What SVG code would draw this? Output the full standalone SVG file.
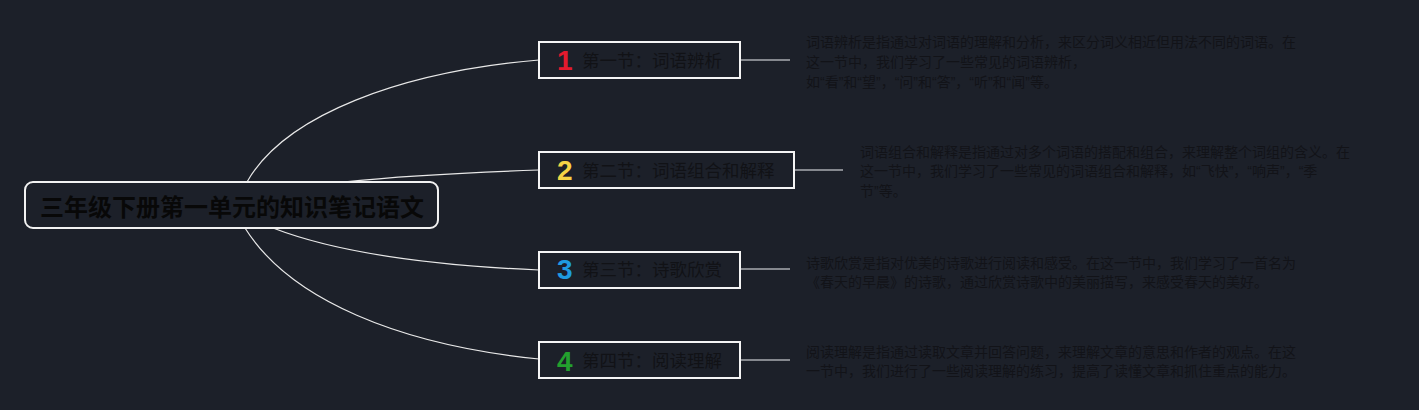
<svg xmlns="http://www.w3.org/2000/svg" width="1419" height="410" viewBox="0 0 1419 410">
<style>
.bg{fill:#1c2029}
.root{fill:#1c2029;stroke:#f2f2f2;stroke-width:2}
.box{fill:#1c2029;stroke:#f5f5f5;stroke-width:2}
.con{fill:none;stroke:#e8e8e8;stroke-width:1.2}
.stub{fill:none;stroke:#a9abb0;stroke-width:1.6}
.rt{font-family:"Noto Sans CJK SC","Noto Sans",sans-serif;font-size:24px;font-weight:bold;fill:#080808}
.nt{font-family:"Noto Sans CJK SC","Noto Sans",sans-serif;font-size:17.5px;fill:#111216}
.num{font-family:"Liberation Sans","Noto Sans",sans-serif;font-size:28px;font-weight:900}
.dt{font-family:"Liberation Sans","Noto Sans CJK SC",sans-serif;font-size:14px;fill:#121318}
</style>
<rect class="bg" x="0" y="0" width="1419" height="410"/>
<g id="connectors">
<path class="con" d="M247,182 C285,115 400,72 539,60"/>
<path class="con" d="M343,182 Q420,174 539,170"/>
<path class="con" d="M273,228 C330,250 420,265 539,270"/>
<path class="con" d="M245,228 C290,300 400,345 539,359"/>
<path class="stub" d="M740,60 H790"/>
<path class="stub" d="M794,170 H843"/>
<path class="stub" d="M740,269 H790"/>
<path class="stub" d="M740,360 H790"/>
</g>
<g id="root">
<rect class="root" x="25" y="182" width="413" height="46" rx="8"/>
<text class="rt" x="232" y="216" text-anchor="middle">三年级下册第一单元的知识笔记语文</text>
</g>
<g id="node1">
<rect class="box" x="539" y="42" width="201" height="36"/>
<text class="num" x="557" y="70" fill="#e31a2e">1</text>
<text class="nt" x="582" y="67">第一节：词语辨析</text>
</g>
<g id="desc1">
<text class="dt" x="806" y="47">词语辨析是指通过对词语的理解和分析，来区分词义相近但用法不同的词语。在</text>
<text class="dt" x="806" y="67">这一节中，我们学习了一些常见的词语辨析，</text>
<text class="dt" x="806" y="87">如“看”和“望”，“问”和“答”，“听”和“闻”等。</text>
</g>
<g id="node2">
<rect class="box" x="539" y="152" width="255" height="36"/>
<text class="num" x="557" y="180" fill="#f4d345">2</text>
<text class="nt" x="582" y="177">第二节：词语组合和解释</text>
</g>
<g id="desc2">
<text class="dt" x="860" y="157">词语组合和解释是指通过对多个词语的搭配和组合，来理解整个词组的含义。在</text>
<text class="dt" x="860" y="176">这一节中，我们学习了一些常见的词语组合和解释，如“飞快”，“响声”，“季</text>
<text class="dt" x="860" y="196">节”等。</text>
</g>
<g id="node3">
<rect class="box" x="539" y="252" width="201" height="36"/>
<text class="num" x="557" y="279" fill="#1f9be0">3</text>
<text class="nt" x="582" y="276">第三节：诗歌欣赏</text>
</g>
<g id="desc3">
<text class="dt" x="806" y="268">诗歌欣赏是指对优美的诗歌进行阅读和感受。在这一节中，我们学习了一首名为</text>
<text class="dt" x="806" y="287">《春天的早晨》的诗歌，通过欣赏诗歌中的美丽描写，来感受春天的美好。</text>
</g>
<g id="node4">
<rect class="box" x="539" y="342" width="201" height="36"/>
<text class="num" x="557" y="371" fill="#23a02e">4</text>
<text class="nt" x="582" y="367">第四节：阅读理解</text>
</g>
<g id="desc4">
<text class="dt" x="806" y="357">阅读理解是指通过读取文章并回答问题，来理解文章的意思和作者的观点。在这</text>
<text class="dt" x="806" y="376">一节中，我们进行了一些阅读理解的练习，提高了读懂文章和抓住重点的能力。</text>
</g>
</svg>
